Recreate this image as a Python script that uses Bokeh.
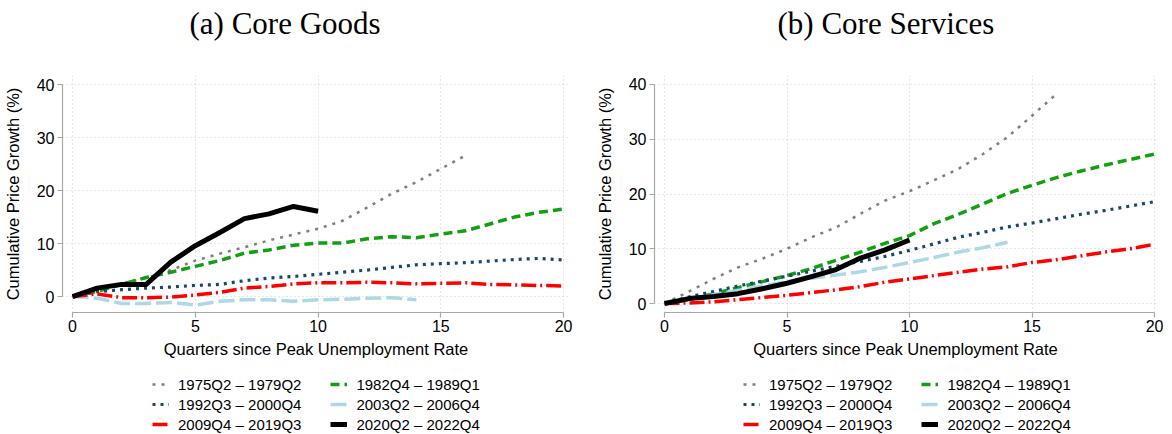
from bokeh.plotting import figure
from bokeh.models import Legend, LegendItem, Range1d, FixedTicker
from bokeh.layouts import row, column
from bokeh.embed import file_html
from bokeh.resources import INLINE

# ---------------- data ----------------
labels = ["1975Q2 \u2013 1979Q2", "1982Q4 \u2013 1989Q1", "1992Q3 \u2013 2000Q4",
          "2003Q2 \u2013 2006Q4", "2009Q4 \u2013 2019Q3", "2020Q2 \u2013 2022Q4"]

x_ticks = [0, 5, 10, 15, 20]
y_ticks = [0, 10, 20, 30, 40]

# Core goods, cumulative price growth (%) by quarter since peak unemployment
goods_1975 = [0, 1.5, 2.5, 3.5, 5.0, 6.8, 8.1, 9.3, 10.6, 11.7, 12.8, 14.3, 16.8, 19.4, 21.6, 24.1, 26.6]
goods_1982 = [0, 1.0, 2.3, 3.6, 4.6, 5.7, 6.8, 8.2, 8.8, 9.7, 10.1, 10.1, 10.9, 11.3, 11.1, 11.8, 12.4, 13.7, 15.0, 15.9, 16.5]
goods_1992 = [0, 0.9, 1.3, 1.6, 1.8, 2.1, 2.3, 3.0, 3.5, 3.8, 4.2, 4.6, 5.0, 5.5, 6.0, 6.2, 6.4, 6.7, 7.0, 7.2, 6.9]
goods_2003 = [0, -0.3, -1.3, -1.3, -1.1, -1.6, -0.9, -0.6, -0.6, -0.9, -0.6, -0.5, -0.3, -0.2, -0.6]
goods_2009 = [0, 0.5, -0.2, -0.2, -0.1, 0.3, 0.8, 1.6, 1.9, 2.4, 2.6, 2.6, 2.7, 2.6, 2.4, 2.5, 2.6, 2.3, 2.2, 2.1, 2.0]
goods_2020 = [0, 1.6, 2.3, 2.3, 6.5, 9.6, 12.1, 14.7, 15.6, 17.0, 16.1]

# Core services
serv_1975 = [0, 2.2, 4.5, 6.6, 8.2, 10.0, 12.1, 13.9, 16.4, 18.8, 20.5, 22.5, 24.6, 27.3, 30.4, 34.3, 38.3]
serv_1982 = [0, 0.7, 1.8, 2.9, 4.0, 5.1, 6.4, 7.9, 9.4, 11.0, 12.4, 14.6, 16.3, 18.2, 20.1, 21.6, 23.0, 24.2, 25.3, 26.3, 27.3]
serv_1992 = [0, 1.2, 2.2, 3.2, 4.1, 5.0, 5.9, 6.8, 7.7, 8.6, 9.7, 10.9, 12.1, 13.0, 14.0, 14.7, 15.5, 16.3, 17.0, 17.8, 18.6]
serv_2003 = [0, 0.8, 1.6, 2.4, 3.2, 4.0, 4.6, 5.2, 5.8, 6.6, 7.5, 8.4, 9.4, 10.2, 11.2]
serv_2009 = [0, 0.1, 0.3, 0.7, 1.1, 1.5, 2.0, 2.5, 3.1, 3.9, 4.5, 5.1, 5.7, 6.3, 6.7, 7.5, 8.0, 8.7, 9.4, 10.0, 10.8]
serv_2020 = [0, 0.9, 1.3, 1.8, 2.7, 3.7, 4.9, 6.2, 8.3, 9.8, 11.6]

# ---------------- styles ----------------
styles = [
    dict(line_color="#7f7f7f", line_width=2.5, line_dash="3 6"),
    dict(line_color="#10a010", line_width=3.5, line_dash="9 5"),
    dict(line_color="#1a476f", line_width=3.2, line_dash="3 5"),
    dict(line_color="#add8e6", line_width=3.5, line_dash="16 5"),
    dict(line_color="#ff0000", line_width=3.5, line_dash="15 4 2 4"),
    dict(line_color="#000000", line_width=5, line_dash="solid"),
]

AXIS_GRAY = "#a8a8a8"
FONT = "Liberation Sans"


def make_title(text, offset):
    # title-only canvas above each panel
    t = figure(width=578, height=44, output_backend="svg", toolbar_location=None,
               x_range=Range1d(0, 1), y_range=Range1d(0, 1), min_border=0)
    t.title.text = text
    t.title.text_font = "Liberation Serif"
    t.title.text_font_size = "31px"
    t.title.text_font_style = "normal"
    t.title.text_color = "black"
    t.title.align = "left"
    t.title.offset = offset
    t.title.standoff = 8
    t.axis.visible = False
    t.grid.visible = False
    t.outline_line_color = None
    t.background_fill_color = "white"
    t.border_fill_color = "white"
    return t


def make_panel(series, y_range, x_range, border_left, border_right, fw):
    p = figure(frame_width=fw, frame_height=237, output_backend="svg", toolbar_location=None,
               x_range=Range1d(*x_range), y_range=Range1d(*y_range),
               title_location=None,
               min_border_left=border_left, min_border_right=border_right,
               min_border_top=31, min_border_bottom=50)
    p.outline_line_color = None
    p.background_fill_color = "white"
    p.border_fill_color = "white"

    p.xaxis.ticker = FixedTicker(ticks=x_ticks)
    p.yaxis.ticker = FixedTicker(ticks=y_ticks)
    p.xaxis.bounds = (x_ticks[0], x_ticks[-1])
    p.yaxis.bounds = (y_ticks[0], y_ticks[-1])
    for ax in (p.xaxis, p.yaxis):
        ax.axis_line_color = AXIS_GRAY
        ax.axis_line_width = 1.2
        ax.major_tick_line_color = AXIS_GRAY
        ax.major_tick_line_width = 1.2
        ax.major_tick_out = 5
        ax.major_tick_in = 0
        ax.minor_tick_line_color = None
        ax.major_label_text_font = FONT
        ax.major_label_text_font_size = "16px"
        ax.major_label_text_color = "black"
        ax.axis_label_text_font = FONT
        ax.axis_label_text_font_size = "16.5px"
        ax.axis_label_text_font_style = "normal"
        ax.axis_label_text_color = "black"
    p.xaxis.axis_label = "Quarters since Peak Unemployment Rate"
    p.yaxis.axis_label = "Cumulative Price Growth (%)"
    p.xaxis.major_label_standoff = 2
    p.xaxis.axis_label_standoff = 5
    p.yaxis.major_label_standoff = 3
    p.yaxis.axis_label_standoff = 12

    p.xgrid.ticker = FixedTicker(ticks=x_ticks)
    p.ygrid.ticker = FixedTicker(ticks=y_ticks)
    for g in (p.xgrid, p.ygrid):
        g.grid_line_color = "#cfcfcf"
        g.grid_line_dash = "1 3"
        g.grid_line_width = 1

    for ys, st in zip(series, styles):
        p.line(list(range(len(ys))), ys, line_join="round", **st)
    return p


def make_legend(series, legend_x):
    # legend-only canvas below each panel; its line copies lie outside the visible range
    lf = figure(width=578, height=72, output_backend="svg", toolbar_location=None,
                x_range=Range1d(100, 101), y_range=Range1d(0, 1), min_border=0,
                title_location=None)
    lf.axis.visible = False
    lf.grid.visible = False
    lf.outline_line_color = None
    lf.background_fill_color = "white"
    lf.border_fill_color = "white"
    items = []
    for lab, ys, st in zip(labels, series, styles):
        r = lf.line(list(range(len(ys))), ys, **st)
        items.append(LegendItem(label=lab, renderers=[r]))
    for k in range(3):
        lg = Legend(items=items[2 * k:2 * k + 2], orientation="horizontal",
                    location=(legend_x, 40 - 20 * k), label_text_font=FONT,
                    label_text_font_size="15px", label_text_color="black",
                    glyph_width=17, glyph_height=20, label_height=20,
                    label_standoff=9, spacing=29, padding=0, margin=0,
                    border_line_alpha=0, background_fill_alpha=0)
        lf.add_layout(lg, "center")
    return lf


goods_series = [goods_1975, goods_1982, goods_1992, goods_2003, goods_2009, goods_2020]
serv_series = [serv_1975, serv_1982, serv_1992, serv_2003, serv_2009, serv_2020]

t1 = make_title("(a) Core Goods", 189)
t2 = make_title("(b) Core Services", 199)
p1 = make_panel(goods_series, (-3.0, 41.7), (-0.41, 20.24), 55, 16, 507)
p2 = make_panel(serv_series, (-1.64, 41.64), (-0.408, 20.08), 69, 7, 502)
l1 = make_legend(goods_series, 152)
l2 = make_legend(serv_series, 165)

layout = column(row(t1, t2), row(p1, p2), row(l1, l2))
open("out.html", "w").write(file_html(layout, INLINE))
